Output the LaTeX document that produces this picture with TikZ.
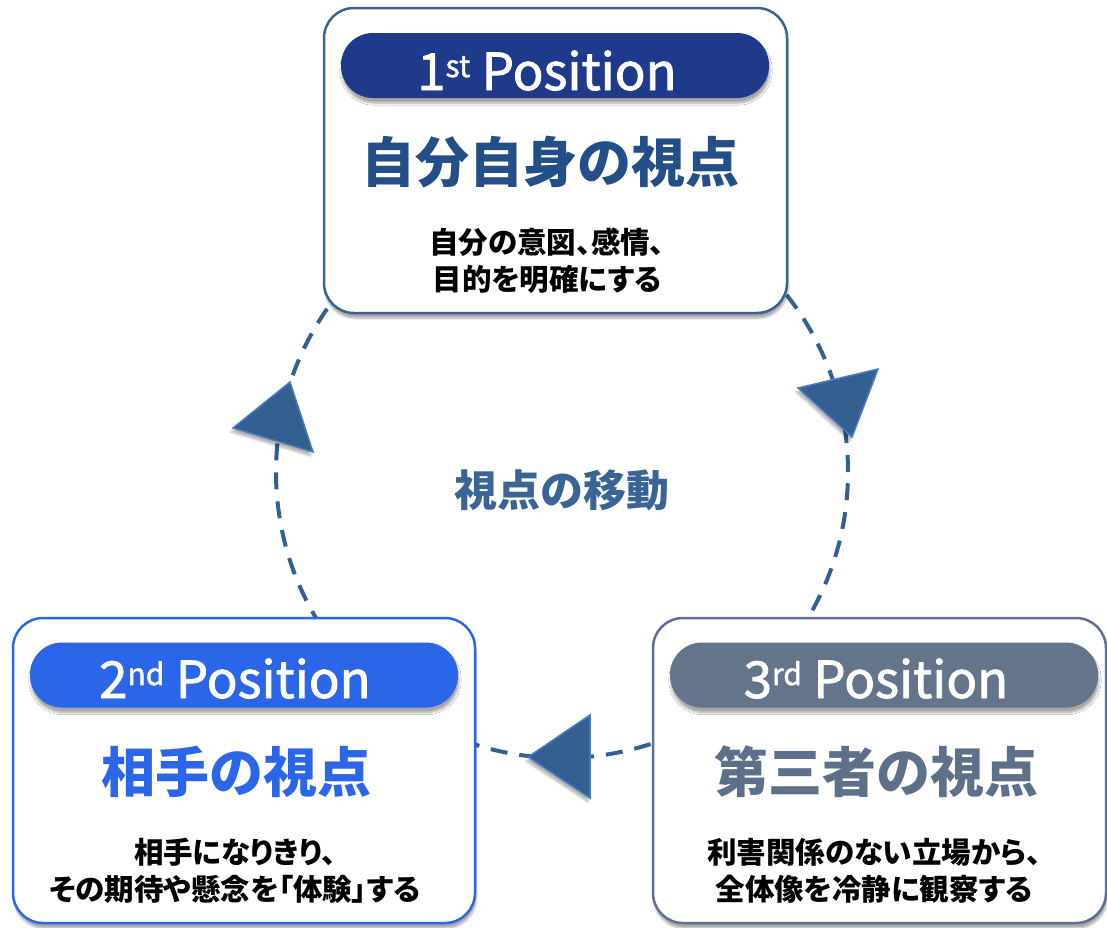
\documentclass[tikz,border=0pt]{standalone}
\usepackage{fontspec}
\setmainfont{Noto Sans CJK JP}
\newfontfamily\pillfont{Noto Sans CJK JP}[FakeBold=1.6]
\newfontfamily\subfont{Noto Sans CJK JP}[RawFeature=+palt]
\usetikzlibrary{shadows.blur}
\definecolor{navy}{RGB}{31,58,138}
\definecolor{navytitle}{RGB}{36,78,135}
\definecolor{navyborder}{RGB}{61,97,145}
\definecolor{bluep}{RGB}{43,101,232}
\definecolor{slatep}{RGB}{100,116,139}
\definecolor{slatetitle}{RGB}{94,111,138}
\definecolor{slateborder}{RGB}{95,113,144}
\definecolor{loopc}{RGB}{52,96,145}
\definecolor{loopedge}{RGB}{74,125,191}
\definecolor{midtext}{RGB}{58,99,150}
\newcommand{\supx}[1]{\raisebox{13pt}{\fontsize{30}{30}\selectfont #1}}
\begin{document}
\begin{tikzpicture}[x=1pt,y=-1pt,
  card/.style={draw, line width=2.5pt, fill=white, rounded corners=30pt,
    blur shadow={shadow xshift=1pt, shadow yshift=-5pt, shadow opacity=35, shadow blur steps=6}},
  pill/.style={rounded corners=32pt, minimum height=65pt, minimum width=428pt, inner sep=0pt,
    blur shadow={shadow xshift=1pt, shadow yshift=-5pt, shadow opacity=35, shadow blur steps=6}},
  ptext/.style={anchor=base, text=white, font=\pillfont\fontsize{51}{51}\selectfont, inner sep=0pt},
  title/.style={font=\bfseries\fontsize{54}{54}\selectfont, inner sep=0pt},
  sub/.style={font=\subfont\bfseries\fontsize{29.5}{37}\selectfont, align=center, inner sep=0pt, text=black},
  loopline/.style={draw=loopc, line width=4pt, dash pattern=on 17pt off 12pt},
  arrowtri/.style={fill=loopc, draw=loopedge, line width=1.5pt, line join=miter,
    blur shadow={shadow xshift=-2pt, shadow yshift=-4pt, shadow opacity=30, shadow blur steps=5}}
]
\useasboundingbox (0,0) rectangle (1107,927);
\coordinate (c) at (562,472);
\draw[loopline] (c) circle[radius=286pt];

% arrowheads on the loop
\filldraw[arrowtri] (798,388) -- (878,369) -- (852,437) -- cycle;
\filldraw[arrowtri] (590,715) -- (528,757) -- (590,798) -- cycle;
\filldraw[arrowtri] (233,428) -- (313,452) -- (290,382) -- cycle;

% 1st position
\node[card, draw=navyborder, minimum width=463pt, minimum height=305pt] (p1) at (555.5,160.5) {};
\node[pill, fill=navy] (h1) at (555,65.5) {};
\node[ptext] (t1) at (547,90) {1\supx{st} Position};
\node[title, text=navytitle] (m1) at (550,162) {自分自身の視点};
\node[sub] (s1) at (547,261) {自分の意図、感情、\\目的を明確にする};

% 2nd position
\node[card, draw=bluep, minimum width=462pt, minimum height=305pt] (p2) at (244,770.5) {};
\node[pill, fill=bluep] (h2) at (244,675) {};
\node[ptext] (t2) at (235,698) {2\supx{nd} Position};
\node[title, text=bluep] (m2) at (236,772) {相手の視点};
\node[sub] (s2) at (235,871) {相手になりきり、\\その期待や懸念を「体験」する};

% 3rd position
\node[card, draw=slateborder, minimum width=453pt, minimum height=305pt] (p3) at (879.5,770.5) {};
\node[pill, fill=slatep] (h3) at (884,675) {};
\node[ptext] (t3) at (876,698) {3\supx{rd} Position};
\node[title, text=slatetitle] (m3) at (876,772) {第三者の視点};
\node[sub] (s3) at (874,871) {利害関係のない立場から、\\全体像を冷静に観察する};

% centre label
\node[font=\bfseries\fontsize{43}{43}\selectfont, text=midtext, inner sep=0pt] (mid) at (562,490) {視点の移動};
\end{tikzpicture}
\end{document}
